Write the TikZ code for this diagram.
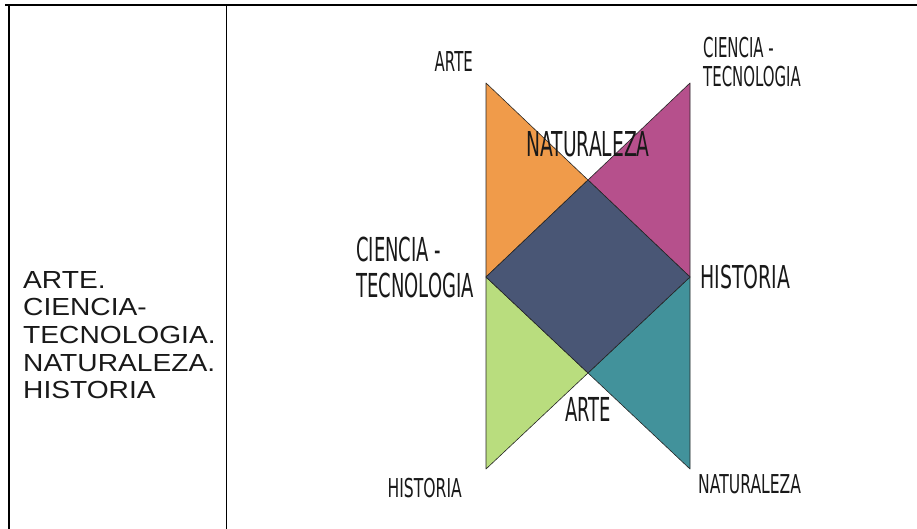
\documentclass[tikz,border=0pt]{standalone}
\usepackage{fontspec}
\newfontfamily\agency[FakeStretch=0.545]{DejaVu Sans}
\newfontfamily\agencywide[FakeStretch=0.6]{DejaVu Sans}
\newfontfamily\cellfont[FakeStretch=1.14]{Liberation Sans}
\usetikzlibrary{positioning}

\definecolor{pOrange}{HTML}{F09B4A}
\definecolor{pMagenta}{HTML}{B6508C}
\definecolor{pSlate}{HTML}{495675}
\definecolor{pGreen}{HTML}{B9DD7E}
\definecolor{pTeal}{HTML}{42929B}

\begin{document}
\begin{tikzpicture}[x=1pt,y=-1pt,
        piece/.style={draw=black!85, line width=0.6pt, line join=round},
        lbl/.style={inner sep=0pt, text=black!90, align=left}]
        \useasboundingbox (0,0) rectangle (917,529);
        % table rules
        \draw[line width=2pt] (5,5.3) -- (917,5.3);
        \draw[line width=2pt] (9,5.3) -- (9,529);
        \draw[line width=1pt] (226.7,5.3) -- (226.7,529);
        \node[lbl, anchor=north west, font=\cellfont\fontsize{24.7}{27.7}\selectfont] (items) at (23,271)
          {ARTE.\\CIENCIA-\\TECNOLOGIA.\\NATURALEZA.\\HISTORIA};
        % pieces
        \coordinate (ot) at (486,83);
        \coordinate (rt) at (690,83);
        \coordinate (ct) at (588,180);
        \coordinate (ml) at (486,277);
        \coordinate (mr) at (690,277);
        \coordinate (cb) at (588,373);
        \coordinate (lb) at (486,469);
        \coordinate (rb) at (690,469);
        \filldraw[piece, fill=pOrange] (ot) -- (ct) -- (ml) -- cycle;
        \filldraw[piece, fill=pMagenta] (rt) -- (ct) -- (mr) -- cycle;
        \filldraw[piece, fill=pGreen] (ml) -- (cb) -- (lb) -- cycle;
        \filldraw[piece, fill=pTeal] (mr) -- (cb) -- (rb) -- cycle;
        \filldraw[piece, fill=pSlate] (ct) -- (mr) -- (cb) -- (ml) -- cycle;
        % labels
        \node[lbl, font=\agency\fontsize{27.4}{29}\selectfont, above left=11pt and 13pt of ot] (arteT) {ARTE};
        \node[lbl, font=\agency\fontsize{34.3}{36}\selectfont, above=23pt of ct] (natC) {NATURALEZA};
        \node[lbl, font=\agency\fontsize{33}{36}\selectfont, left=12pt of ml, yshift=10pt] (cienL) {CIENCIA -\\TECNOLOGIA};
        \node[lbl, font=\agencywide\fontsize{31.5}{34}\selectfont, right=10pt of mr] (histR) {HISTORIA};
        \node[lbl, font=\agency\fontsize{27.4}{29}\selectfont, above right=-4pt and 13pt of rt] (cienR) {CIENCIA -\\TECNOLOGIA};
        \node[lbl, font=\agency\fontsize{33}{36}\selectfont, below=24pt of cb] (arteB) {ARTE};
        \node[lbl, font=\agencywide\fontsize{26}{28}\selectfont, below left=9pt and 24pt of lb] (histB) {HISTORIA};
        \node[lbl, font=\agencywide\fontsize{26}{28}\selectfont, below right=5pt and 8pt of rb] (natB) {NATURALEZA};
\end{tikzpicture}
\end{document}
